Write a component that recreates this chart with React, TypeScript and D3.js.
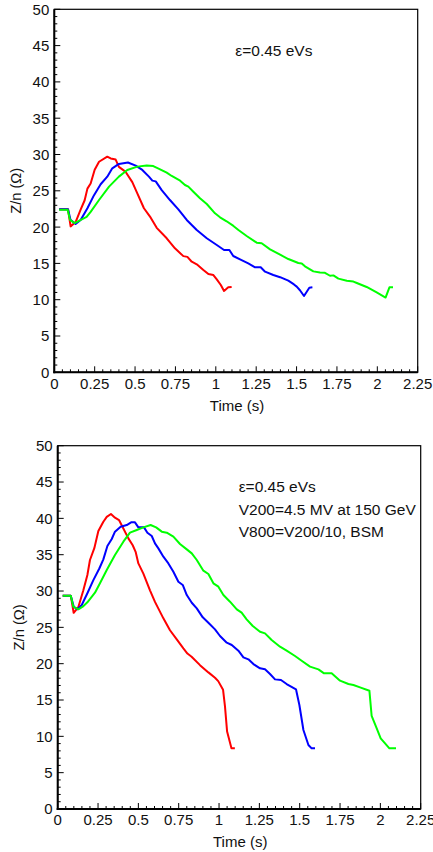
import React from "react";
import * as d3 from "d3";

type Pt = [number, number];

const xTicks = [0, 0.25, 0.5, 0.75, 1, 1.25, 1.5, 1.75, 2, 2.25];
const xTickLabels = ["0", "0.25", "0.5", "0.75", "1", "1.25", "1.5", "1.75", "2", "2.25"];
const yTicks = [0, 5, 10, 15, 20, 25, 30, 35, 40, 45, 50];

const topRed: Pt[] = [[0.03,22.45],[0.085,22.45],[0.101,20.1],[0.132,20.7],[0.163,22.4],[0.188,23.7],[0.205,25.3],[0.225,26.0],[0.25,27.9],[0.277,29.0],[0.328,29.7],[0.349,29.45],[0.38,29.3],[0.4,28.3],[0.442,27.6],[0.483,26.2],[0.514,24.65],[0.555,22.6],[0.597,21.3],[0.634,19.9],[0.696,18.46],[0.747,17.08],[0.799,16.0],[0.824,15.9],[0.851,15.23],[0.882,14.88],[0.923,14.1],[0.954,13.54],[0.985,13.4],[1.006,12.8],[1.031,12.03],[1.051,11.2],[1.077,11.7],[1.098,11.75]];
const topBlue: Pt[] = [[0.03,22.45],[0.085,22.45],[0.1,21.0],[0.132,20.43],[0.163,20.98],[0.205,22.6],[0.246,24.4],[0.287,25.9],[0.328,26.95],[0.359,28.1],[0.4,28.7],[0.456,28.9],[0.504,28.46],[0.545,27.87],[0.586,26.95],[0.607,26.4],[0.628,26.3],[0.665,25.1],[0.716,23.73],[0.768,22.45],[0.82,20.98],[0.882,19.6],[0.944,18.46],[1.006,17.53],[1.051,16.85],[1.084,16.85],[1.108,16.02],[1.15,15.56],[1.201,15.0],[1.243,14.46],[1.278,14.46],[1.305,13.86],[1.356,13.4],[1.398,13.1],[1.449,12.62],[1.484,12.1],[1.501,11.8],[1.521,11.3],[1.546,10.51],[1.579,11.65],[1.598,11.7]];
const topGreen: Pt[] = [[0.03,22.4],[0.083,22.4],[0.097,21.0],[0.126,20.55],[0.173,21.1],[0.2,21.4],[0.225,22.1],[0.277,23.73],[0.339,25.57],[0.4,26.95],[0.452,27.87],[0.514,28.33],[0.572,28.5],[0.613,28.4],[0.655,27.96],[0.696,27.5],[0.727,27.04],[0.779,26.4],[0.809,25.8],[0.83,25.57],[0.861,24.88],[0.902,23.97],[0.944,23.18],[0.995,21.9],[1.026,21.35],[1.067,20.8],[1.109,20.16],[1.14,19.6],[1.191,18.77],[1.253,17.86],[1.284,17.77],[1.336,16.94],[1.398,16.2],[1.449,15.6],[1.511,15.05],[1.532,15.0],[1.552,14.6],[1.604,13.9],[1.645,13.75],[1.676,13.7],[1.707,13.3],[1.728,13.35],[1.759,12.9],[1.811,12.62],[1.852,12.5],[1.873,12.3],[1.934,11.75],[1.996,11.0],[2.051,10.3],[2.075,11.7],[2.097,11.7]];

const botRed: Pt[] = [[0.031,29.36],[0.081,29.36],[0.099,27.0],[0.128,27.8],[0.159,30.1],[0.184,32.2],[0.2,34.27],[0.227,35.9],[0.252,38.26],[0.283,39.54],[0.304,40.2],[0.33,40.6],[0.355,40.1],[0.38,39.77],[0.407,38.6],[0.438,37.25],[0.465,36.3],[0.483,35.4],[0.5,33.8],[0.531,32.4],[0.572,30.1],[0.603,28.5],[0.655,26.24],[0.696,24.6],[0.738,23.35],[0.779,22.1],[0.804,21.4],[0.83,20.96],[0.882,19.8],[0.934,18.8],[0.975,18.07],[0.995,17.6],[1.025,16.4],[1.037,14.08],[1.05,10.65],[1.077,8.36],[1.098,8.36]];
const botBlue: Pt[] = [[0.031,29.36],[0.081,29.36],[0.1,27.8],[0.122,27.5],[0.149,28.07],[0.184,29.7],[0.221,31.5],[0.258,33.1],[0.283,34.36],[0.308,36.2],[0.335,37.16],[0.355,38.17],[0.39,38.85],[0.428,39.08],[0.455,39.45],[0.479,39.45],[0.5,38.76],[0.535,38.76],[0.556,38.03],[0.583,37.57],[0.603,36.56],[0.624,35.87],[0.655,34.72],[0.686,33.8],[0.717,32.66],[0.748,31.28],[0.775,30.83],[0.8,29.45],[0.831,28.39],[0.862,27.61],[0.899,26.38],[0.934,25.64],[0.975,24.72],[1.006,23.81],[1.048,22.89],[1.079,22.57],[1.12,21.79],[1.151,20.87],[1.182,20.6],[1.213,19.95],[1.254,19.36],[1.285,19.22],[1.316,18.58],[1.347,17.84],[1.384,17.75],[1.419,17.2],[1.477,16.47],[1.498,14.31],[1.523,10.87],[1.554,8.81],[1.574,8.35],[1.595,8.35]];
const botGreen: Pt[] = [[0.031,29.36],[0.081,29.36],[0.097,27.84],[0.128,27.48],[0.155,27.84],[0.184,28.44],[0.231,29.77],[0.262,31.06],[0.304,32.9],[0.355,34.95],[0.407,36.79],[0.448,38.03],[0.49,38.4],[0.531,38.76],[0.576,39.08],[0.61,38.76],[0.645,38.17],[0.676,38.03],[0.717,37.48],[0.758,36.47],[0.8,35.73],[0.831,35.18],[0.862,34.27],[0.903,32.8],[0.934,32.34],[0.965,31.06],[0.996,30.6],[1.027,29.45],[1.068,28.53],[1.11,27.48],[1.14,27.02],[1.171,26.1],[1.209,25.18],[1.254,24.4],[1.285,24.17],[1.326,23.26],[1.378,22.34],[1.419,21.79],[1.471,21.06],[1.512,20.41],[1.564,19.59],[1.616,19.22],[1.651,18.67],[1.698,18.67],[1.75,17.66],[1.802,17.2],[1.833,17.06],[1.874,16.74],[1.932,16.28],[1.946,12.8],[1.973,11.33],[2.002,9.72],[2.056,8.35],[2.097,8.35]];

const seriesColors = ["#ff0000", "#0000ff", "#00ff00"];
const topNotes = ["ε=0.45 eVs"];
const botNotes = ["ε=0.45 eVs", "V200=4.5 MV at 150 GeV", "V800=V200/10, BSM"];

const FONT = "'Liberation Sans', Arial, sans-serif";

function Panel(props: { left: number; top: number; right: number; bottom: number; series: Pt[][]; notes: string[]; noteY: number }) {
  const { left, top, right, bottom, series, notes, noteY } = props;
  const x = d3.scaleLinear().domain([0, 2.25]).range([left, right]);
  const y = d3.scaleLinear().domain([0, 50]).range([bottom, top]);
  const line = d3.line<Pt>().x((d) => x(d[0])).y((d) => y(d[1]));
  const yMinor = d3.range(0, 51, 1);
  const xMinor = d3.range(0, 2.2501, 0.05);
  return (
    <g>
      <rect x={left} y={top} width={right - left} height={bottom - top} fill="white" stroke="#000" strokeWidth={1.2} />
      {yMinor.map((v) => (
        <line key={"ym" + v} x1={left} x2={left + (v % 5 === 0 ? 6 : 3)} y1={y(v)} y2={y(v)} stroke="#000" strokeWidth={1} />
      ))}
      {xMinor.map((v, i) => (
        <line key={"xm" + i} x1={x(v)} x2={x(v)} y1={bottom} y2={bottom - (i % 5 === 0 ? 6 : 3)} stroke="#000" strokeWidth={1} />
      ))}
      {series.map((s, i) => (
        <path key={"s" + i} d={line(s) || ""} fill="none" stroke={seriesColors[i]} strokeWidth={2} strokeLinejoin="round" />
      ))}
      <line x1={left} x2={left} y1={top} y2={bottom + 1} stroke="#000" strokeWidth={2} />
      <line x1={left - 1} x2={right} y1={bottom} y2={bottom} stroke="#000" strokeWidth={2} />
      {yTicks.map((v) => (
        <text key={"yt" + v} x={left - 5} y={y(v)} dy="0.36em" textAnchor="end" fontSize={15} fontFamily={FONT} fill="#111">{v}</text>
      ))}
      {xTicks.map((v, i) => (
        <text key={"xt" + v} x={x(v)} y={bottom + 11} dy="0.36em" textAnchor="middle" fontSize={15} fontFamily={FONT} fill="#111">{xTickLabels[i]}</text>
      ))}
      <text x={(left + right) / 2 + 1} y={bottom + 33} dy="0.36em" textAnchor="middle" fontSize={15} fontFamily={FONT} fill="#111">Time (s)</text>
      <text transform={`translate(${left - 39},${(top + bottom) / 2}) rotate(-90)`} dy="0.36em" textAnchor="middle" fontSize={14.7} fontFamily={FONT} fill="#111">Z/n (Ω)</text>
      {notes.map((n, i) => (
        <text key={"n" + i} x={left + 181} y={noteY + i * 22.5} dy="0.36em" fontSize={15.5} fontFamily={FONT} fill="#111">{n}</text>
      ))}
    </g>
  );
}

export default function App() {
  return (
    <svg width={433} height={852} style={{ position: "absolute", left: 0, top: 0, background: "white" }}>
      <Panel left={54.3} top={9.3} right={417.7} bottom={372.3} series={[topRed, topBlue, topGreen]} notes={topNotes} noteY={50} />
      <Panel left={57.7} top={445.7} right={420.7} bottom={809} series={[botRed, botBlue, botGreen]} notes={botNotes} noteY={486.7} />
    </svg>
  );
}
